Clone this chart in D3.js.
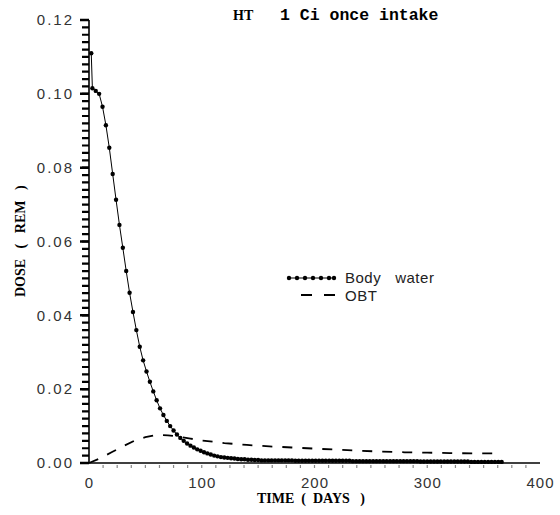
<!DOCTYPE html>
<html><head><meta charset="utf-8">
<script src="https://cdn.jsdelivr.net/npm/d3@7"></script>
<style>body{margin:0;background:#fff}svg{display:block}</style>
</head><body>
<script>
// ---- data ----
const bodyDays = [2,3,6,9,12,15,18,21,24,27,30,33,36,39,42,45,48,51,54,57,60,63,66,69,72,75,78,81,84,87,90,93,96,99,102,105,108,111,114,117,120,123,126,129,132,135,138,141,144,147,150,
153,156,159,162,165,168,171,174,177,180,
183,186,189,192,195,198,201,204,207,210,213,216,219,222,225,228,231,
234,237,240,243,246,249,252,255,258,261,264,267,270,273,276,279,282,285,288,291,
294,297,300,303,306,309,312,315,318,321,324,327,330,333,336,
339,342,345,348,351,354,357,360,363,366];
const bodyDose = [0.1110,0.1015,0.1008,0.1000,0.0965,0.0915,0.0854,0.0783,0.0713,0.0645,0.0583,0.0520,0.0461,0.0409,0.0360,0.0315,0.0278,0.0248,0.0220,0.0194,0.0170,0.0148,0.0130,0.0114,0.0100,0.0088,0.0077,0.0068,0.0060,0.0053,0.0047,0.0042,0.0037,0.0033,0.0029,0.0026,0.0023,0.0020,0.0018,0.0016,0.0015,0.0014,0.0013,0.0012,0.0011,0.0010,0.0010,0.0009,0.0009,0.0008,0.0008,
0.0007,0.0007,0.0007,0.0007,0.0007,0.0007,0.0007,0.0007,0.0007,0.0007,
0.0006,0.0006,0.0006,0.0006,0.0006,0.0006,0.0006,0.0006,0.0006,0.0006,0.0006,0.0006,0.0006,0.0006,0.0006,0.0006,0.0006,
0.0005,0.0005,0.0005,0.0005,0.0005,0.0005,0.0005,0.0005,0.0005,0.0005,0.0005,0.0005,0.0005,0.0005,0.0005,0.0005,0.0005,0.0005,0.0005,0.0005,
0.0004,0.0004,0.0004,0.0004,0.0004,0.0004,0.0004,0.0004,0.0004,0.0004,0.0004,0.0004,0.0004,0.0004,0.0004,
0.0003,0.0003,0.0003,0.0003,0.0003,0.0003,0.0003,0.0003,0.0003,0.0003];
const obtDays = [0,10,20,30,40,50,60,70,80,90,100,120,140,160,180,200,220,240,260,280,300,320,340,360];
const obtDose = [0,0.0013,0.0029,0.0045,0.0060,0.0070,0.0076,0.0075,0.0071,0.0066,0.0061,0.0054,0.0049,0.0045,0.0042,0.0039,0.0036,0.0033,0.0031,0.0029,0.0028,0.0027,0.0026,0.0026];
const xTicks = [0,100,200,300,400];
const yTicks = [0,0.02,0.04,0.06,0.08,0.10,0.12];
const seriesNames = ["Body   water","OBT"];

// ---- chart ----
const W=560,H=515;
const svg=d3.select("body").append("svg").attr("width",W).attr("height",H);
const x=d3.scaleLinear().domain([0,400]).range([89,540]);
const y=d3.scaleLinear().domain([0,0.12]).range([463,20]);

// y axis: minor ticks every 0.002
const yMinor=d3.range(0,61).map(i=>i*0.002);
svg.append("path").attr("d",yMinor.map(d=>`M${x(0)-7},${y(d)}H${x(0)}`).join(""))
  .attr("stroke","#000").attr("stroke-width",2.2).attr("fill","none");
svg.append("path").attr("d",yTicks.map(d=>`M${x(0)-9},${y(d)}H${x(0)}`).join(""))
  .attr("stroke","#000").attr("stroke-width",2.5).attr("fill","none");
svg.append("path").attr("d",`M${x(0)},${y(0.12)}V${y(0)}`).attr("stroke","#000").attr("stroke-width",1.6);
const gyM=svg.append("g").attr("transform",`translate(${x(0)},0)`)
  .call(d3.axisLeft(y).tickValues(yTicks).tickSize(0).tickPadding(15).tickFormat(d3.format(".2f")));
gyM.select(".domain").remove();
gyM.selectAll("text").attr("font-family","Liberation Sans, Arial, sans-serif").attr("font-size",15)
  .attr("letter-spacing",2).attr("fill","#333");

// x axis
svg.append("path").attr("d",`M${x(0)-6},${y(0)}H${x(400)}`).attr("stroke","#000").attr("stroke-width",1.6);
svg.append("path").attr("d",d3.range(1,32).map(i=>i*12.5).map(d=>`M${x(d)},${y(0)+2}v3`).join(""))
  .attr("stroke","#888").attr("stroke-width",1.2);
const gxM=svg.append("g").attr("transform",`translate(0,${y(0)})`)
  .call(d3.axisBottom(x).tickValues(xTicks).tickSize(0).tickPadding(14));
gxM.select(".domain").remove();
gxM.selectAll("text").attr("font-family","Liberation Sans, Arial, sans-serif").attr("font-size",15)
  .attr("letter-spacing",1).attr("fill","#333");

// axis titles
svg.append("text").attr("x",257).attr("y",503)
  .attr("font-family","Liberation Serif, Times New Roman, serif").attr("font-weight","bold").attr("font-size",14)
  .style("white-space","pre").text("TIME  (  DAYS   )");
svg.append("text").attr("transform","translate(25,297) rotate(-90)")
  .attr("font-family","Liberation Serif, Times New Roman, serif").attr("font-weight","bold").attr("font-size",14)
  .style("white-space","pre").text("DOSE   (   REM   )");

// title
svg.append("text").attr("x",233).attr("y",20)
  .attr("font-family","Liberation Serif, Times New Roman, serif").attr("font-weight","bold").attr("font-size",14).text("HT");
svg.append("text").attr("x",280).attr("y",20)
  .attr("font-family","Liberation Mono, Courier New, monospace").attr("font-weight","bold").attr("font-size",16.5).text("1 Ci once intake");

// OBT dashed
const line=d3.line().x(d=>x(d[0])).y(d=>y(d[1]));
svg.append("path").datum(obtDays.map((d,i)=>[d,obtDose[i]]))
  .attr("d",line).attr("fill","none").attr("stroke","#000").attr("stroke-width",1.8).attr("stroke-dasharray","10,10");

// body water
const bw=bodyDays.map((d,i)=>[d,bodyDose[i]]);
svg.append("path").datum(bw).attr("d",line).attr("fill","none").attr("stroke","#000").attr("stroke-width",1);
svg.append("g").selectAll("circle").data(bw).enter().append("circle")
  .attr("cx",d=>x(d[0])).attr("cy",d=>y(d[1])).attr("r",2.2).attr("fill","#000");

// legend
const lg=svg.append("g");
lg.append("line").attr("x1",287).attr("x2",335).attr("y1",278).attr("y2",278).attr("stroke","#000").attr("stroke-width",1.2);
lg.selectAll("circle").data([289,297,305,313,321,329,334]).enter().append("circle")
  .attr("cx",d=>d).attr("cy",278).attr("r",2.2).attr("fill","#000");
lg.append("line").attr("x1",301).attr("x2",336).attr("y1",295).attr("y2",295).attr("stroke","#000").attr("stroke-width",1.8).attr("stroke-dasharray","11,12");
lg.append("text").attr("x",345).attr("y",283).attr("font-family","Liberation Sans, Arial, sans-serif").attr("font-size",15)
  .attr("letter-spacing",0.5).attr("fill","#222").style("white-space","pre").text(seriesNames[0]);
lg.append("text").attr("x",345).attr("y",301).attr("font-family","Liberation Sans, Arial, sans-serif").attr("font-size",15)
  .attr("letter-spacing",0.5).attr("fill","#222").text(seriesNames[1]);
</script>
</body></html>
